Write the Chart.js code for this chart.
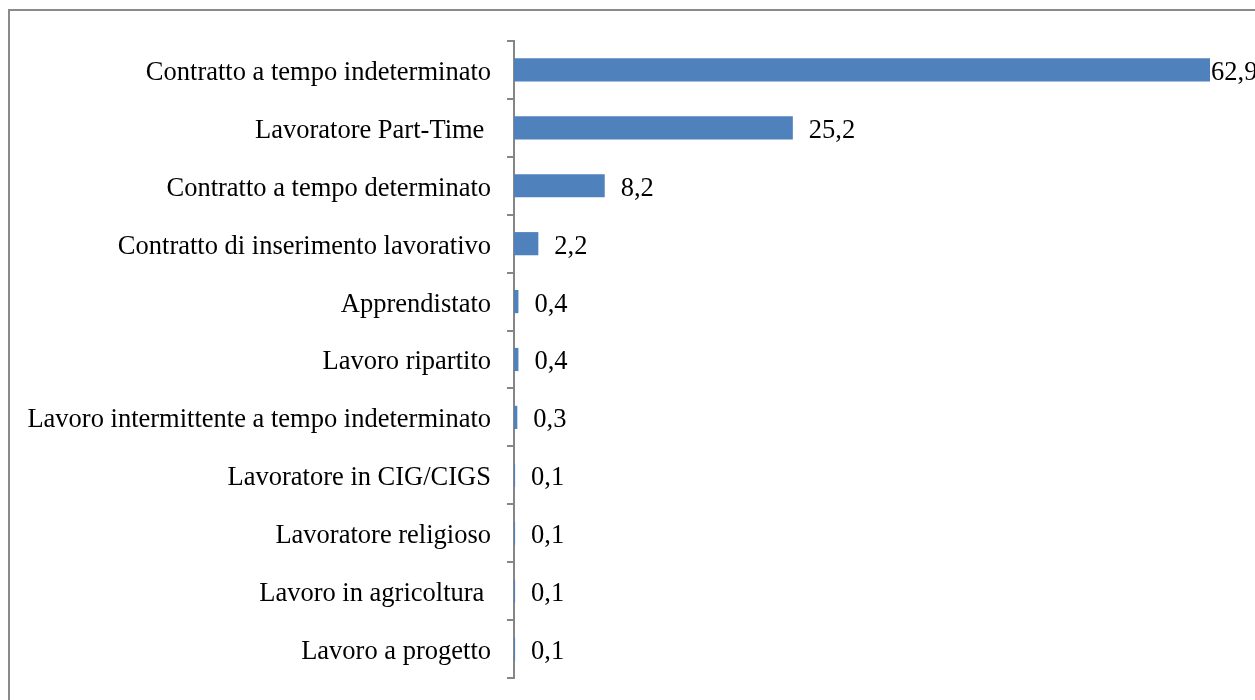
<!DOCTYPE html>
<html>
<head>
<meta charset="utf-8">
<script src="https://cdn.jsdelivr.net/npm/chart.js@4/dist/chart.umd.min.js"></script>
<style>
  html, body { margin: 0; padding: 0; background: #fff; overflow: hidden; }
  #wrap { width: 1255px; height: 700px; position: relative; }
</style>
</head>
<body>
<div id="wrap"><canvas id="chart" width="1255" height="700"></canvas></div>
<script>
// categories and values (percent)
const categories = [
  'Contratto a tempo indeterminato',
  'Lavoratore Part-Time ',
  'Contratto a tempo determinato',
  'Contratto di inserimento lavorativo',
  'Apprendistato',
  'Lavoro ripartito',
  'Lavoro intermittente a tempo indeterminato',
  'Lavoratore in CIG/CIGS',
  'Lavoratore religioso',
  'Lavoro in agricoltura ',
  'Lavoro a progetto'
];
const values = [62.9, 25.2, 8.2, 2.2, 0.4, 0.4, 0.3, 0.1, 0.1, 0.1, 0.1];

const FONT = "'Liberation Serif', 'Times New Roman', serif";
const FSIZE = 26.5;

// outer frame like the spreadsheet chart box
const framePlugin = {
  id: 'frame',
  beforeDraw(chart) {
    const c = chart.ctx;
    c.save();
    c.fillStyle = '#fff';
    c.fillRect(0, 0, chart.width, chart.height);
    c.strokeStyle = '#8a8a8a';
    c.lineWidth = 2;
    c.strokeRect(9, 10, 2000, 2000);
    c.restore();
  }
};

// value labels at the end of each bar
const valueLabels = {
  id: 'valueLabels',
  afterDatasetsDraw(chart) {
    const c = chart.ctx;
    const meta = chart.getDatasetMeta(0);
    c.save();
    c.font = FSIZE + 'px ' + FONT;
    c.fillStyle = '#000';
    c.textBaseline = 'middle';
    c.textAlign = 'left';
    meta.data.forEach((bar, i) => {
      const txt = values[i].toFixed(1).replace('.', ',');
      const w = c.measureText(txt).width;
      let x = bar.x + 16;
      if (x + w > chart.width) x = bar.x + 1; // squeezed against the edge, like the original
      c.fillText(txt, x, bar.y + 3);
    });
    c.restore();
  }
};

new Chart(document.getElementById('chart'), {
  type: 'bar',
  data: {
    labels: categories,
    datasets: [{
      data: values,
      backgroundColor: '#4f81bd',
      borderWidth: 0,
      barPercentage: 0.4,
      categoryPercentage: 1
    }]
  },
  options: {
    indexAxis: 'y',
    responsive: false,
    animation: false,
    layout: { padding: { top: 41, bottom: 22, right: 45, left: 0 } },
    plugins: { legend: { display: false }, tooltip: { enabled: false } },
    scales: {
      x: { display: false, min: 0, max: 62.9 },
      y: {
        afterFit(scale) {
          scale.width = 514;
          scale.paddingTop = 0;
          scale.paddingBottom = 0;
        },
        grid: { drawOnChartArea: false, tickLength: 7, color: '#868686', lineWidth: 2, offset: true },
        border: { color: '#868686', width: 2 },
        ticks: { color: '#000', padding: 16, labelOffset: 3, font: { family: FONT, size: FSIZE } }
      }
    }
  },
  plugins: [framePlugin, valueLabels]
});
</script>
</body>
</html>
